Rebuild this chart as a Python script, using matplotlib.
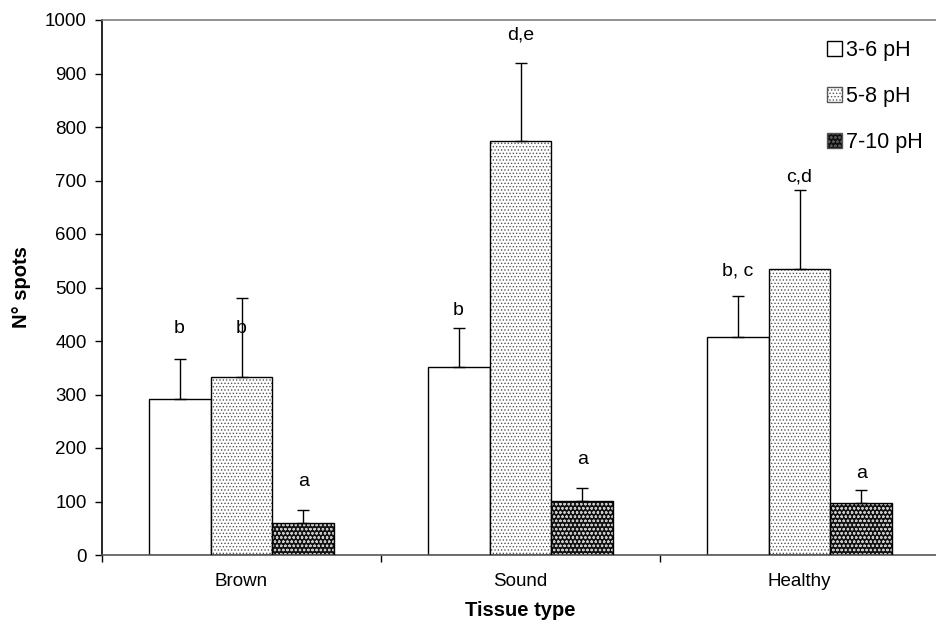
import matplotlib
matplotlib.use('Agg')
import matplotlib.pyplot as plt
from matplotlib.patches import Patch
import numpy as np

plt.rcParams['font.family'] = ['Liberation Sans', 'DejaVu Sans']
plt.rcParams['hatch.linewidth'] = 0.6

tissues = ['Brown', 'Sound', 'Healthy']
ranges = ['3-6 pH', '5-8 pH', '7-10 pH']

# mean number of spots per tissue, one list per pH range
spots_36 = [292, 351, 408]
spots_58 = [333, 773, 535]
spots_710 = [60, 101, 97]

# upper error (SD)
err_36 = [75, 74, 77]
err_58 = [147, 147, 147]
err_710 = [25, 24, 25]

# significance letters and their heights
letters_36 = ['b', 'b', 'b, c']
letters_58 = ['b', 'd,e', 'c,d']
letters_710 = ['a', 'a', 'a']
letter_y_36 = [424, 457, 530]
letter_y_58 = [424, 972, 707]
letter_y_710 = [137, 178, 153]

means = [spots_36, spots_58, spots_710]
errs = [err_36, err_58, err_710]
letters = [letters_36, letters_58, letters_710]
letter_y = [letter_y_36, letter_y_58, letter_y_710]

fig = plt.figure(figsize=(9.36, 6.37), dpi=100)
ax = fig.add_axes([102/936, 82/637, 837/936, 535/637])

x = np.arange(len(tissues))
w = 0.222
offsets = [-w, 0, w]

for k in range(3):
    xs = x + offsets[k]
    if k == 0:
        ax.bar(xs, means[k], w, color='white', edgecolor='black', linewidth=1.0, zorder=2)
    elif k == 1:
        ax.bar(xs, means[k], w, color='white', edgecolor='#555555', hatch='.....', linewidth=0, zorder=2)
        ax.bar(xs, means[k], w, color='none', edgecolor='black', linewidth=1.0, zorder=3)
    else:
        ax.bar(xs, means[k], w, color='#111111', edgecolor='#c8c8c8', hatch='oooo', linewidth=0, zorder=2)
        ax.bar(xs, means[k], w, color='none', edgecolor='black', linewidth=1.0, zorder=3)
    ax.errorbar(xs, means[k], yerr=[np.zeros(3), errs[k]], fmt='none', ecolor='black',
                elinewidth=1.0, capsize=4, capthick=1.0, zorder=4)
    for xi, t, yl in zip(xs, letters[k], letter_y[k]):
        ax.text(xi, yl, t, ha='center', va='center', fontsize=14)

# legend with small square swatches
leg_handles = [
    Patch(facecolor='white', edgecolor='black', linewidth=1.0),
    Patch(facecolor='white', edgecolor='#555555', hatch='.....', linewidth=1.0),
    Patch(facecolor='#111111', edgecolor='#555555', hatch='oooo', linewidth=1.0),
]
ax.legend(leg_handles, ranges, loc='upper right', bbox_to_anchor=(0.998, 0.99), frameon=False,
          fontsize=15.5, handlelength=0.7, handleheight=0.7, handletextpad=0.15,
          labelspacing=1.15, borderaxespad=0.3)

ax.set_xlim(-0.5, 2.5)
ax.set_ylim(0, 1000)
ax.set_yticks(np.arange(0, 1001, 100))
ax.set_xticks([-0.5, 0.5, 1.5, 2.5])
ax.set_xticklabels([])
ax.set_xticks(x, minor=True)
ax.set_xticklabels(tissues, minor=True, fontsize=13.5)
ax.tick_params(axis='x', which='minor', length=0, pad=13)
ax.tick_params(axis='x', which='major', length=5, width=1, direction='out', color='black')
ax.tick_params(axis='y', length=5, width=1, direction='out', labelsize=13.5, pad=6)

ax.spines['left'].set_color('black')
ax.spines['bottom'].set_color('#555555')
ax.spines['top'].set_color('#808080')
ax.spines['right'].set_visible(False)
for s in ax.spines.values():
    s.set_linewidth(1.2)

ax.set_xlabel('Tissue type', fontsize=14.5, fontweight='bold', labelpad=8)
ax.set_ylabel('N° spots', fontsize=14.5, fontweight='bold', labelpad=10)

fig.savefig('out.png', dpi=100)
